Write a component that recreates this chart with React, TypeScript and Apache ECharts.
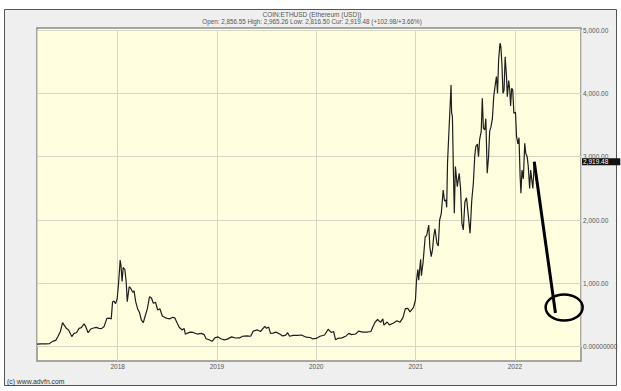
import React, { useEffect, useRef } from "react";
import * as echarts from "echarts";

const dates: string[] = [
  "2017-03-10","2017-03-25","2017-04-10","2017-04-25","2017-05-08","2017-05-18","2017-05-26","2017-06-04","2017-06-12","2017-06-18",
  "2017-06-26","2017-07-04","2017-07-16","2017-07-24","2017-08-02","2017-08-12","2017-08-20","2017-08-30","2017-09-05","2017-09-14",
  "2017-09-24","2017-10-04","2017-10-14","2017-10-24","2017-11-02","2017-11-12","2017-11-22","2017-12-02","2017-12-08","2017-12-13",
  "2017-12-18","2017-12-24","2017-12-30","2018-01-04","2018-01-10","2018-01-13","2018-01-17","2018-01-21","2018-01-27","2018-02-01",
  "2018-02-05","2018-02-12","2018-02-18","2018-02-25","2018-03-02","2018-03-08","2018-03-15","2018-03-22","2018-03-29","2018-04-05",
  "2018-04-13","2018-04-20","2018-04-28","2018-05-05","2018-05-12","2018-05-20","2018-05-28","2018-06-05","2018-06-14","2018-06-24",
  "2018-07-02","2018-07-12","2018-07-22","2018-07-30","2018-08-08","2018-08-15","2018-08-26","2018-09-02","2018-09-07","2018-09-15",
  "2018-09-25","2018-10-05","2018-10-20","2018-11-05","2018-11-15","2018-11-22","2018-12-03","2018-12-14","2018-12-24","2019-01-05",
  "2019-01-15","2019-01-28","2019-02-08","2019-02-24","2019-03-10","2019-03-25","2019-04-05","2019-04-20","2019-05-05","2019-05-14",
  "2019-05-30","2019-06-10","2019-06-26","2019-07-02","2019-07-10","2019-07-17","2019-07-26","2019-08-06","2019-08-20","2019-08-30",
  "2019-09-10","2019-09-18","2019-09-25","2019-10-08","2019-10-25","2019-11-08","2019-11-25","2019-12-10","2019-12-18","2020-01-01",
  "2020-01-15","2020-02-01","2020-02-14","2020-02-25","2020-03-05","2020-03-12","2020-03-20","2020-04-05","2020-04-20","2020-04-30",
  "2020-05-10","2020-05-25","2020-06-05","2020-06-20","2020-07-05","2020-07-20","2020-07-28","2020-08-05","2020-08-14","2020-08-25",
  "2020-09-02","2020-09-06","2020-09-18","2020-09-26","2020-10-10","2020-10-24","2020-11-04","2020-11-15","2020-11-24","2020-12-03",
  "2020-12-11","2020-12-24","2020-12-31","2021-01-04","2021-01-09","2021-01-12","2021-01-19","2021-01-22","2021-01-28","2021-02-05",
  "2021-02-10","2021-02-18","2021-02-22","2021-02-27","2021-03-04","2021-03-08","2021-03-13","2021-03-20","2021-03-25","2021-03-30",
  "2021-04-05","2021-04-12","2021-04-17","2021-04-22","2021-04-25","2021-04-28","2021-05-04","2021-05-11","2021-05-13","2021-05-16",
  "2021-05-20","2021-05-23","2021-05-27","2021-06-03","2021-06-10","2021-06-15","2021-06-20","2021-06-25","2021-07-01","2021-07-07",
  "2021-07-12","2021-07-20","2021-07-26","2021-08-01","2021-08-06","2021-08-10","2021-08-16","2021-08-20","2021-08-24","2021-08-30",
  "2021-09-03","2021-09-07","2021-09-12","2021-09-16","2021-09-21","2021-09-26","2021-09-30","2021-10-05","2021-10-10","2021-10-15",
  "2021-10-21","2021-10-25","2021-10-29","2021-11-02","2021-11-07","2021-11-10","2021-11-14","2021-11-18","2021-11-22","2021-11-26",
  "2021-12-01","2021-12-04","2021-12-09","2021-12-13","2021-12-16","2021-12-20","2021-12-24","2021-12-28","2022-01-03","2022-01-07",
  "2022-01-12","2022-01-16","2022-01-20","2022-01-23","2022-01-27","2022-02-01","2022-02-06","2022-02-10","2022-02-15","2022-02-19",
  "2022-02-24","2022-02-28","2022-03-04","2022-03-08","2022-03-13"
];

const prices: number[] = [
  40,45,44,50,88,100,160,240,380,340,
  290,265,160,210,220,290,300,360,320,220,
  280,295,306,290,285,320,448,450,440,710,
  720,680,760,1000,1369,1280,1030,1250,1222,1030,
  711,947,920,860,880,711,600,540,420,380,
  500,600,790,770,685,700,580,600,485,460,
  448,440,464,455,370,306,263,290,196,215,
  230,225,200,210,190,125,110,85,140,155,
  125,108,120,155,137,138,165,170,165,245,
  265,240,320,290,310,210,215,230,200,170,
  180,220,165,180,180,185,150,145,125,130,
  165,185,275,225,240,110,130,140,170,210,
  190,200,245,230,230,240,320,390,430,385,
  440,340,390,345,370,410,385,460,600,606,
  550,620,737,1050,1220,1050,1380,1120,1330,1737,
  1750,1921,1580,1421,1540,1737,1860,1632,1590,2000,
  2100,2474,2300,2316,2200,2896,3474,4132,3700,3632,
  2700,2106,2843,2527,2738,2500,1948,1843,2290,2350,
  2132,1790,2300,2580,3000,3158,3200,3000,3264,3400,
  3922,3450,3421,3600,2738,3000,3400,3474,3600,3948,
  4150,4264,4000,4527,4790,4750,4474,4000,4053,4579,
  4264,3948,4200,4053,3800,4080,4050,3685,3700,3316,
  3200,3300,2700,2422,2790,2650,3211,3050,3000,2850,
  2500,2790,2632,2500,2919.48
];

// hand-drawn annotation: arrow line end and circle centre (date, price)
const arrowEndDate = "2022-05-30";
const arrowEndPrice = 532;
const circleDate = "2022-07-01";
const circlePrice = 619;

const yTicks: number[] = [0, 1000, 2000, 3000, 4000, 5000];

const titleText = "COIN:ETHUSD (Ethereum (USD))";
const quoteText = "Open: 2,856.55 High: 2,965.26 Low: 2,816.50 Cur: 2,919.48 (+102.98/+3.66%)";
const creditText = "(c) www.advfn.com";

const fmt = (v: number) =>
  v === 0
    ? "0.00000000"
    : v.toLocaleString("en-US", { minimumFractionDigits: 2, maximumFractionDigits: 2 });

export default function App() {
  const ref = useRef<HTMLDivElement>(null);
  useEffect(() => {
    if (!ref.current) return;
    const chart = echarts.init(ref.current, undefined, { renderer: "svg" });
    const gridColor = "#d6d6c6";
    const font = "Liberation Sans, Arial, sans-serif";
    const lastDate = dates[dates.length - 1];
    const lastPrice = prices[prices.length - 1];
    chart.setOption({
      animation: false,
      backgroundColor: "#ffffff",
      textStyle: { fontFamily: font },
      grid: { left: 37, right: 40, top: 30, bottom: 44.3, containLabel: false },
      graphic: [
        {
          type: "rect",
          z: -20,
          silent: true,
          shape: { x: 4.5, y: 9.5, width: 612, height: 376 },
          style: { fill: "#efefef", stroke: "#555555", lineWidth: 1 },
        },
        {
          type: "rect",
          z: -10,
          silent: true,
          shape: { x: 37, y: 28, width: 544, height: 333 },
          style: { fill: "#ffffe0", stroke: "#8c8c8c", lineWidth: 1.5 },
        },
        {
          type: "text",
          z: 10,
          x: 312,
          y: 14,
          style: { text: titleText, fontSize: 6.5, fill: "#555", textAlign: "center", textVerticalAlign: "middle", fontFamily: font },
        },
        {
          type: "text",
          z: 10,
          x: 312,
          y: 21.5,
          style: { text: quoteText, fontSize: 6.3, fill: "#555", textAlign: "center", textVerticalAlign: "middle", fontFamily: font },
        },
        {
          type: "text",
          z: 10,
          x: 7,
          y: 381,
          style: { text: creditText, fontSize: 6.8, fill: "#333", textAlign: "left", textVerticalAlign: "middle", fontFamily: font },
        },
      ],
      xAxis: {
        type: "time",
        min: "2017-03-10",
        max: "2022-09-01",
        minInterval: 365 * 86400000,
        maxInterval: 366 * 86400000,
        axisLine: { show: false },
        axisTick: { show: true, length: 14, lineStyle: { color: gridColor, width: 1 } },
        splitLine: { show: true, lineStyle: { color: gridColor, width: 1 } },
        axisLabel: {
          fontSize: 6.5,
          color: "#555",
          margin: 16,
          formatter: (v: number) => String(new Date(v).getFullYear()),
        },
      },
      yAxis: {
        type: "value",
        position: "right",
        min: yTicks[0],
        max: yTicks[yTicks.length - 1],
        interval: 1000,
        axisLine: { show: false },
        axisTick: { show: false },
        splitLine: { show: true, lineStyle: { color: gridColor, width: 1 } },
        axisLabel: { fontSize: 6.5, color: "#555", margin: 2, formatter: fmt },
      },
      series: [
        {
          type: "line",
          data: dates.map((d, i) => [d, prices[i]]),
          showSymbol: false,
          symbol: "none",
          lineStyle: { color: "#1e1e1e", width: 1.2 },
          z: 3,
          markLine: {
            silent: true,
            symbol: ["none", "none"],
            lineStyle: { color: "rgba(0,0,0,0)", width: 0 },
            label: {
              show: true,
              position: "end",
              distance: 1,
              formatter: () => fmt(lastPrice),
              color: "#ffffff",
              backgroundColor: "#111111",
              fontSize: 6.5,
              padding: [0, 12, 0, 1],
              lineHeight: 7,
            },
            data: [{ yAxis: lastPrice }],
          },
        },
        {
          type: "line",
          data: [
            [lastDate, lastPrice],
            [arrowEndDate, arrowEndPrice],
          ],
          showSymbol: false,
          symbol: "none",
          lineStyle: { color: "#000", width: 3 },
          z: 4,
        },
        {
          type: "custom",
          clip: false,
          z: 4,
          data: [[circleDate, circlePrice]],
          encode: { x: 0, y: 1 },
          renderItem: (params: any, api: any) => {
            const p = api.coord([api.value(0), api.value(1)]);
            return {
              type: "ellipse",
              shape: { cx: p[0], cy: p[1], rx: 18.5, ry: 13 },
              style: { fill: "none", stroke: "#000", lineWidth: 2.5 },
            };
          },
        },
      ],
    });
    return () => chart.dispose();
  }, []);
  return (
    <div
      ref={ref}
      style={{ position: "fixed", left: 0, top: 0, width: 621, height: 391 }}
    />
  );
}
